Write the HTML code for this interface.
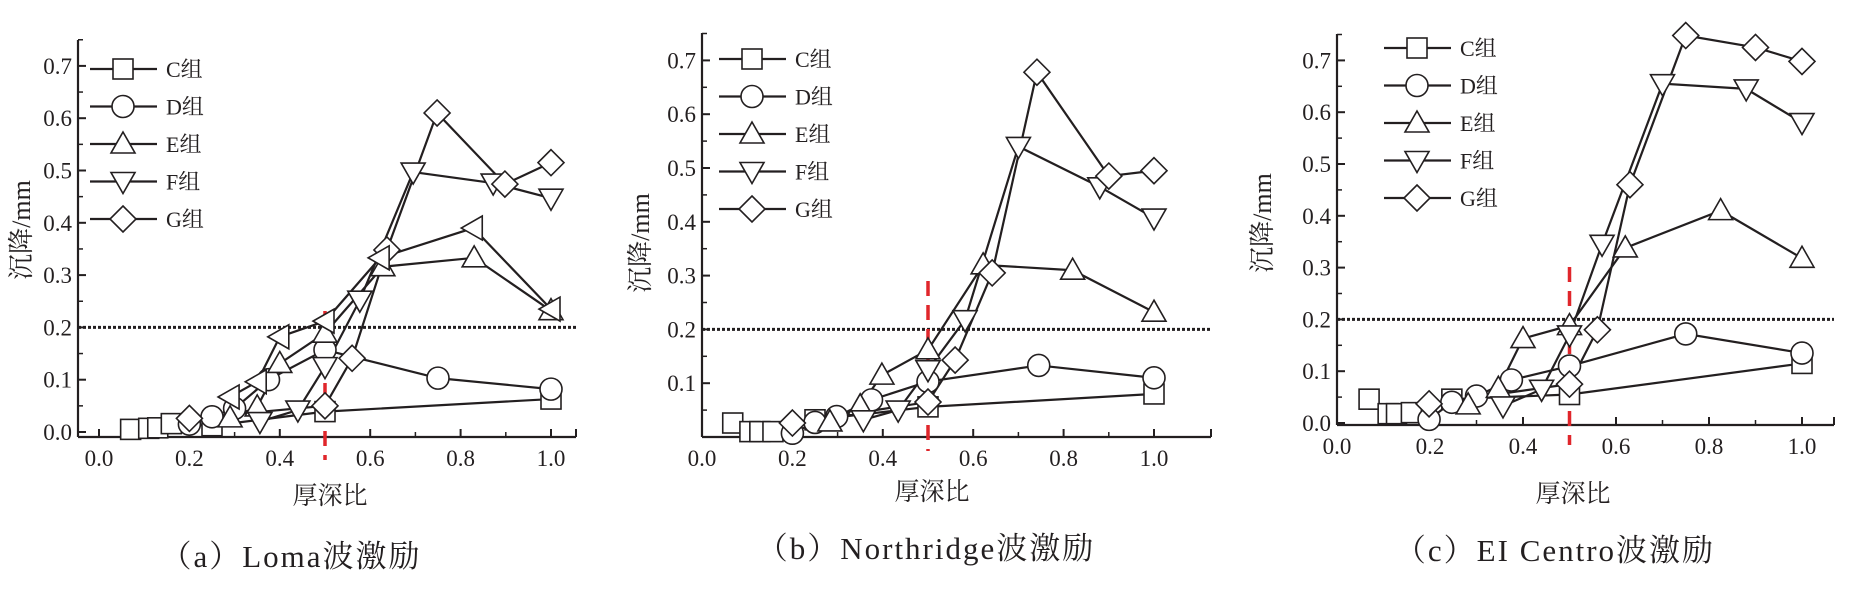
<!DOCTYPE html>
<html><head><meta charset="utf-8">
<style>
html,body{margin:0;padding:0;background:#fff;}
svg{display:block;font-family:"Liberation Serif","Noto Serif CJK SC",serif;}
svg text{font-family:"Liberation Serif","Noto Serif CJK SC",serif;fill:#231f20;}
</style></head>
<body>
<svg id="chart" width="1852" height="593" viewBox="0 0 1852 593" xmlns="http://www.w3.org/2000/svg" font-family="Liberation Serif, Noto Serif CJK SC, serif"></svg>
<script>
// ---- data ----
const seriesNames = ["C组","D组","E组","F组","G组"];
const xTicks = [0.0,0.2,0.4,0.6,0.8,1.0];
const yTicks = [0.1,0.2,0.3,0.4,0.5,0.6,0.7];
// Panel (a) Loma
const aC_x=[0.07,0.11,0.13,0.16,0.25,0.5,1.0];   const aC_y=[0.005,0.007,0.008,0.016,0.012,0.039,0.063];
const aD_x=[0.2,0.25,0.3,0.375,0.5,0.75,1.0];    const aD_y=[0.015,0.029,0.045,0.1,0.157,0.103,0.082];
const aE_x=[0.29,0.35,0.4,0.5,0.628,0.83,1.0];   const aE_y=[0.027,0.048,0.131,0.189,0.316,0.333,0.232];
const aF_x=[0.356,0.44,0.5,0.577,0.695,0.872,1.0]; const aF_y=[0.02,0.042,0.125,0.252,0.497,0.476,0.447];
const aG_x=[0.2,0.5,0.56,0.637,0.748,0.898,1.0]; const aG_y=[0.026,0.05,0.141,0.348,0.61,0.474,0.515];
const aH_x=[0.29,0.35,0.4,0.5,0.622,0.828,1.0];  const aH_y=[0.067,0.096,0.182,0.212,0.333,0.39,0.235];
// Panel (b) Northridge
const bC_x=[0.068,0.106,0.128,0.157,0.25,0.5,1.0]; const bC_y=[0.026,0.01,0.01,0.01,0.032,0.056,0.08];
const bD_x=[0.2,0.25,0.298,0.375,0.5,0.745,1.0];   const bD_y=[0.007,0.027,0.038,0.069,0.103,0.133,0.11];
const bE_x=[0.283,0.35,0.398,0.5,0.622,0.82,1.0];  const bE_y=[0.028,0.058,0.115,0.162,0.32,0.31,0.232];
const bF_x=[0.357,0.434,0.5,0.582,0.7,0.88,1.0];   const bF_y=[0.032,0.05,0.125,0.218,0.54,0.465,0.407];
const bG_x=[0.2,0.5,0.56,0.642,0.741,0.9,1.0];     const bG_y=[0.026,0.065,0.143,0.305,0.678,0.485,0.495];
// Panel (c) EI Centro
const cC_x=[0.069,0.11,0.128,0.16,0.247,0.5,1.0];  const cC_y=[0.046,0.018,0.018,0.02,0.046,0.055,0.115];
const cD_x=[0.198,0.247,0.3,0.375,0.5,0.75,1.0];   const cD_y=[0.007,0.04,0.052,0.083,0.11,0.172,0.135];
const cE_x=[0.282,0.347,0.4,0.5,0.62,0.825,1.0];   const cE_y=[0.035,0.067,0.163,0.188,0.338,0.41,0.318];
const cF_x=[0.357,0.44,0.5,0.57,0.7,0.88,1.0];     const cF_y=[0.033,0.065,0.17,0.345,0.655,0.645,0.58];
const cG_x=[0.198,0.5,0.56,0.63,0.75,0.9,1.0];     const cG_y=[0.037,0.075,0.18,0.46,0.748,0.725,0.698];

const svg=document.getElementById('chart');
const NS="http://www.w3.org/2000/svg";
const FF='"Liberation Serif","Noto Serif CJK SC",serif';
function mk(tag,attrs,parent){const e=document.createElementNS(NS,tag);for(const k in attrs)e.setAttribute(k,attrs[k]);if(tag==='text')e.style.fontFamily=FF;(parent||svg).appendChild(e);return e;}

function marker(g,type,cx,cy){
  const s=11;let e;
  const st={fill:'#fff',stroke:'#231f20','stroke-width':1.6};
  if(type==='sq'){e=mk('rect',Object.assign({x:cx-s+1,y:cy-s+1,width:2*s-2,height:2*s-2},st),g);}
  else if(type==='ci'){e=mk('circle',Object.assign({cx:cx,cy:cy,r:s},st),g);}
  else if(type==='up'){e=mk('polygon',Object.assign({points:`${cx},${cy-s-1} ${cx+s+1},${cy+s-2} ${cx-s-1},${cy+s-2}`},st),g);}
  else if(type==='dn'){e=mk('polygon',Object.assign({points:`${cx},${cy+s+1} ${cx+s+1},${cy-s+2} ${cx-s-1},${cy-s+2}`},st),g);}
  else if(type==='di'){e=mk('polygon',Object.assign({points:`${cx},${cy-s-2} ${cx+s+2},${cy} ${cx},${cy+s+2} ${cx-s-2},${cy}`},st),g);}
  else if(type==='lt'){e=mk('polygon',Object.assign({points:`${cx-s-1},${cy} ${cx+s-2},${cy-s-1} ${cx+s-2},${cy+s+1}`},st),g);}
  
  
  return e;
}

function panel(p){
  const g=mk('g',{});
  
  
  const X=v=>p.x0+p.sx*v, Y=v=>p.y0-p.sy*v;
  const ax=mk('line',{x1:p.axX,y1:p.axTop,x2:p.axX,y2:p.axBot,stroke:'#231f20','stroke-width':2.2},g);
  
  const bx=mk('line',{x1:p.axX,y1:p.axBot,x2:p.axRight,y2:p.axBot,stroke:'#231f20','stroke-width':2.2},g);
  
  mk('line',{x1:p.axRight,y1:p.axBot,x2:p.axRight,y2:p.axBot-8,stroke:'#231f20','stroke-width':2},g);
  const yt=p.showZero?[0].concat(yTicks):yTicks;
  yt.forEach(v=>{
    mk('line',{x1:p.axX,y1:Y(v),x2:p.axX+8,y2:Y(v),stroke:'#231f20','stroke-width':2},g);
    const t=mk('text',{x:p.axX-6,y:Y(v)+8,'text-anchor':'end','font-size':23},g);t.textContent=v.toFixed(1);
    
  });
  for(let v=0.05;v<0.75;v+=0.1){mk('line',{x1:p.axX,y1:Y(v),x2:p.axX+5,y2:Y(v),stroke:'#231f20','stroke-width':1.5},g);}
  xTicks.forEach(v=>{
    mk('line',{x1:X(v),y1:p.axBot,x2:X(v),y2:p.axBot-8,stroke:'#231f20','stroke-width':2},g);
    const t=mk('text',{x:X(v),y:p.axBot+29,'text-anchor':'middle','font-size':23},g);t.textContent=v.toFixed(1);
    
  });
  for(let v=0.1;v<1.05;v+=0.2){mk('line',{x1:X(v),y1:p.axBot,x2:X(v),y2:p.axBot-5,stroke:'#231f20','stroke-width':1.5},g);}
  const dl=mk('line',{x1:p.axX,y1:Y(0.2),x2:p.axRight,y2:Y(0.2),stroke:'#231f20','stroke-width':3,'stroke-dasharray':'3,2'},g);
  
  const rl=mk('line',{x1:X(0.5),y1:p.redTop,x2:X(0.5),y2:p.redBot,stroke:'#e0262b','stroke-width':3.5,'stroke-dasharray':'15,9'},g);
  
  p.series.forEach(s=>{
    const pts=s.x.map((v,i)=>X(v)+','+Y(s.y[i])).join(' ');
    const pl=mk('polyline',{points:pts,fill:'none',stroke:'#231f20','stroke-width':2.2},g);
    
  });
  p.series.forEach(s=>{s.x.forEach((v,i)=>marker(g,s.m,X(v),Y(s.y[i])));});
  const types=['sq','ci','up','dn','di'];
  seriesNames.forEach((n,i)=>{
    const ly=p.legY+i*37.5;
    const lg=mk('g',{},g);
    
    mk('line',{x1:p.legX-33,y1:ly,x2:p.legX+34,y2:ly,stroke:'#231f20','stroke-width':2.2},lg);
    marker(lg,types[i],p.legX,ly);
    const t=mk('text',{x:p.legX+43,y:ly+8,'font-size':22},lg);t.textContent=n;
  });
  const yl=mk('text',{x:0,y:0,'font-size':26,'text-anchor':'middle',transform:`translate(${p.ylx+9},${p.yly}) rotate(-90)`},g);
  yl.textContent='沉降/mm';
  const xl=mk('text',{x:p.xlx,y:p.xly,'font-size':25,'text-anchor':'middle'},g);
  xl.textContent='厚深比';
  const tt=mk('text',{x:p.tx,y:p.ty,'font-size':31,'text-anchor':'middle','letter-spacing':2},g);
  tt.textContent=p.title;
}

panel({name:'panel-a-loma',x0:99,sx:452,y0:432,sy:523,axX:78,axTop:40,axBot:437,axRight:576,showZero:true,
  redTop:311,redBot:460,legX:123,legY:69,ylx:21,yly:230,xlx:330,xly:504,tx:291,ty:567,title:'（a）Loma波激励',
  series:[{id:'C',m:'sq',x:aC_x,y:aC_y},{id:'D',m:'ci',x:aD_x,y:aD_y},{id:'E',m:'up',x:aE_x,y:aE_y},
          {id:'F',m:'dn',x:aF_x,y:aF_y},{id:'G',m:'di',x:aG_x,y:aG_y},{id:'H',m:'lt',x:aH_x,y:aH_y}]});
panel({name:'panel-b-northridge',x0:702,sx:452,y0:437,sy:538,axX:702,axTop:33,axBot:437,axRight:1211,showZero:false,
  redTop:281,redBot:451,legX:752,legY:59,ylx:640,yly:243,xlx:932,xly:500,tx:926,ty:559,title:'（b）Northridge波激励',
  series:[{id:'C',m:'sq',x:bC_x,y:bC_y},{id:'D',m:'ci',x:bD_x,y:bD_y},{id:'E',m:'up',x:bE_x,y:bE_y},
          {id:'F',m:'dn',x:bF_x,y:bF_y},{id:'G',m:'di',x:bG_x,y:bG_y}]});
panel({name:'panel-c-ei-centro',x0:1337,sx:465,y0:423,sy:518,axX:1337,axTop:34,axBot:425,axRight:1834,showZero:true,
  redTop:267,redBot:445,legX:1417,legY:48,ylx:1262,yly:223,xlx:1573,xly:502,tx:1555,ty:561,title:'（c）EI Centro波激励',
  series:[{id:'C',m:'sq',x:cC_x,y:cC_y},{id:'D',m:'ci',x:cD_x,y:cD_y},{id:'E',m:'up',x:cE_x,y:cE_y},
          {id:'F',m:'dn',x:cF_x,y:cF_y},{id:'G',m:'di',x:cG_x,y:cG_y}]});
</script>
</body></html>
